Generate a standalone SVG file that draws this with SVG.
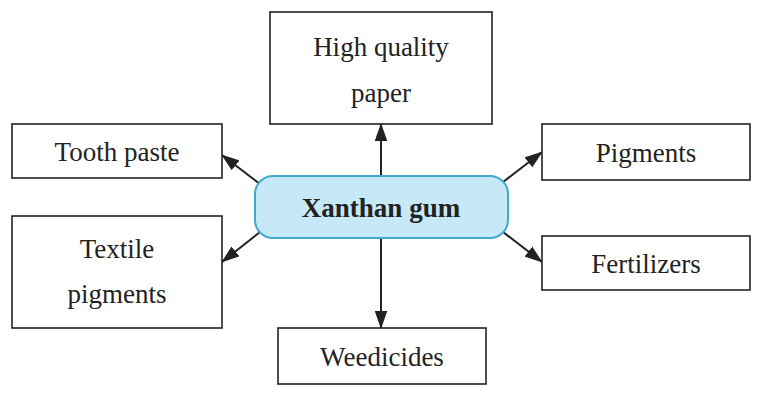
<svg xmlns="http://www.w3.org/2000/svg" width="768" height="404" viewBox="0 0 768 404">
<style>
.b{fill:#fff;stroke:#222;stroke-width:1.6}
.t{font-family:"Liberation Serif",serif;font-size:27px;fill:#222;text-anchor:middle}
.c{stroke:#222;stroke-width:2;fill:none;marker-end:url(#a)}
</style>
<defs><marker id="a" markerWidth="10" markerHeight="10" refX="9" refY="5" orient="auto" markerUnits="userSpaceOnUse" viewBox="0 0 10 10"><path d="M0,0 L10,5 L0,10 Z" fill="#222"/></marker>
<marker id="a2" viewBox="0 0 20 14" refX="19" refY="7" markerWidth="18" markerHeight="13" orient="auto" markerUnits="userSpaceOnUse"><path d="M0,0 L20,7 L0,14 Z" fill="#222"/></marker></defs>
<g id="connectors" style="marker-end:url(#a2)">
<path class="c" style="marker-end:url(#a2)" d="M381,176 V124"/>
<path class="c" style="marker-end:url(#a2)" d="M381,238 V328"/>
<path class="c" style="marker-end:url(#a2)" d="M260,184 L222,155"/>
<path class="c" style="marker-end:url(#a2)" d="M260,232 L222,262"/>
<path class="c" style="marker-end:url(#a2)" d="M503,182 L542,152"/>
<path class="c" style="marker-end:url(#a2)" d="M503,232 L542,262"/>
</g>
<g id="center"><rect x="255" y="176" width="253" height="62" rx="18" fill="#c7e8f6" stroke="#3fa9d0" stroke-width="2"/><text class="t" x="381" y="217" font-weight="bold">Xanthan gum</text></g>
<g id="paper"><rect class="b" x="270" y="12" width="222" height="112"/><text class="t" x="381" y="56">High quality</text><text class="t" x="381" y="102">paper</text></g>
<g id="tooth"><rect class="b" x="12" y="124" width="210" height="54"/><text class="t" x="117" y="161">Tooth paste</text></g>
<g id="pigments"><rect class="b" x="542" y="124" width="208" height="56"/><text class="t" x="646" y="162">Pigments</text></g>
<g id="textile"><rect class="b" x="12" y="216" width="210" height="112"/><text class="t" x="117" y="258">Textile</text><text class="t" x="117" y="303">pigments</text></g>
<g id="fert"><rect class="b" x="542" y="236" width="208" height="54"/><text class="t" x="646" y="273">Fertilizers</text></g>
<g id="weed"><rect class="b" x="278" y="328" width="208" height="56"/><text class="t" x="382" y="366">Weedicides</text></g>
</svg>
